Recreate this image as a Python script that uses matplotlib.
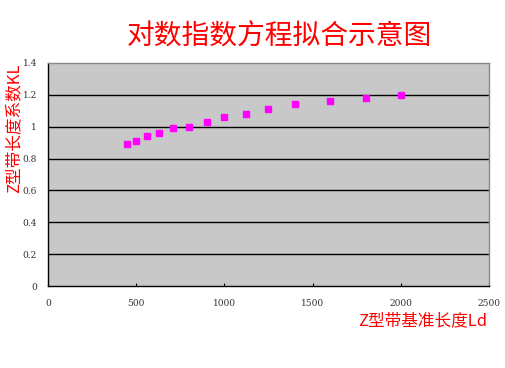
import matplotlib
matplotlib.use("Agg")
import matplotlib.pyplot as plt

plt.rcParams['font.family'] = ['Noto Sans CJK SC', 'DejaVu Sans']

title = "对数指数方程拟合示意图"
xlabel = "Z型带基准长度Ld"
ylabel = "Z型带长度系数KL"
Ld = [450, 500, 560, 630, 710, 800, 900, 1000, 1120, 1250, 1400, 1600, 1800, 2000]
KL = [0.89, 0.91, 0.94, 0.96, 0.99, 1.00, 1.03, 1.06, 1.08, 1.11, 1.14, 1.16, 1.18, 1.20]
xticks = [0, 500, 1000, 1500, 2000, 2500]
yticks = [0, 0.2, 0.4, 0.6, 0.8, 1, 1.2, 1.4]
ytick_labels = ["0", "0.2", "0.4", "0.6", "0.8", "1", "1.2", "1.4"]

fig = plt.figure(figsize=(5.06, 3.68), dpi=100)
ax = fig.add_axes([48/506, 1-286/368, (489-48)/506, (286-63)/368])
ax.set_facecolor('#c8c8c8')
ax.set_xlim(0, 2500)
ax.set_ylim(0, 1.4)
for y in yticks[1:-1]:
    ax.axhline(y, color='black', lw=1.0, zorder=1)
ax.plot(Ld, KL, linestyle='none', marker='s', markersize=3.8,
        color='#ff00ff', markeredgecolor='#ff00ff', zorder=3)
ax.set_xticks(xticks)
ax.set_xticklabels([str(v) for v in xticks], family='DejaVu Serif', fontsize=6.5, color='#333333')
ax.set_yticks(yticks)
ax.set_yticklabels(ytick_labels, family='DejaVu Serif', fontsize=6.5, color='#333333')
ax.tick_params(axis='x', direction='in', length=2, width=0.8, pad=9)
ax.tick_params(axis='y', length=0, pad=8)
for s in ['top', 'right']:
    ax.spines[s].set_color('#888888')
    ax.spines[s].set_linewidth(1.0)
for s in ['left', 'bottom']:
    ax.spines[s].set_color('black')
    ax.spines[s].set_linewidth(1.0)

fig.text(279/506, 1-37/368, title, ha='center', va='center', fontsize=20, color='red')
fig.text(487/506, 1-321/368, xlabel, ha='right', va='center', fontsize=12, color='red')
fig.text(14/506, 1-128/368, ylabel, ha='center', va='center', fontsize=12, color='red', rotation=90)

fig.savefig("out.png", dpi=100)
